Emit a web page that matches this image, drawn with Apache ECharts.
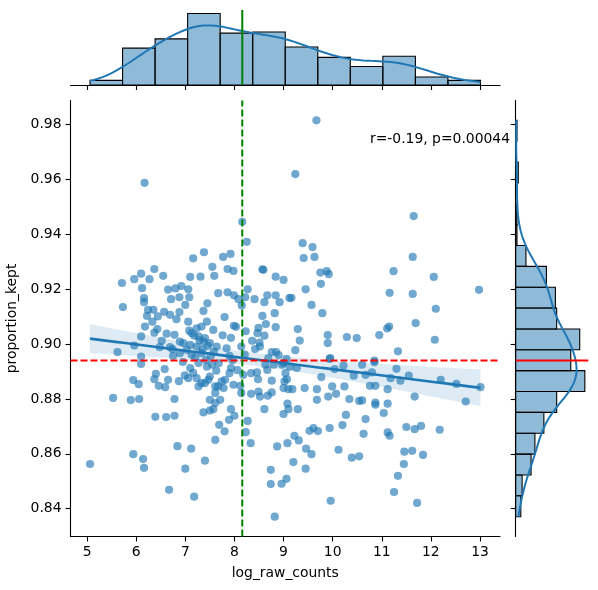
<!DOCTYPE html>
<html>
<head>
<meta charset="utf-8">
<script src="https://cdn.jsdelivr.net/npm/echarts@6/dist/echarts.min.js"></script>
<style>
  html, body { margin: 0; padding: 0; background: #fff; }
  #chart { width: 598px; height: 590px; }
</style>
</head>
<body>
<div id="chart"></div>
<script>
// scatter points (the last group sits hidden in the dense cluster)
const logRawCounts = [
  6.17,8.16,8.25,7.38,7.16,7.77,7.92,7.55,7.59,7.86,
  7.98,8.57,8.59,8.84,9.00,6.37,6.10,5.96,6.27,5.71,
  6.55,6.12,7.10,7.31,6.16,6.16,5.73,6.65,6.80,6.92,
  7.06,6.71,6.88,7.08,7.00,7.67,7.86,7.99,8.08,8.22,
  8.27,8.41,8.15,7.45,7.37,7.80,8.61,8.67,8.84,8.92,
  8.82,8.57,9.12,6.24,6.35,6.22,6.57,6.69,6.88,
  9.67,9.24,11.65,9.39,9.59,9.41,9.63,11.63,9.88,9.75,
  9.92,11.24,12.06,9.76,9.45,9.16,9.57,9.79,11.16,11.63,
  12.98,12.10,11.69,
  6.44,6.82,6.33,6.18,6.43,6.37,6.62,6.78,6.10,5.96,
  6.48,6.69,5.62,6.10,6.89,7.06,7.23,7.33,7.44,7.57,
  7.13,7.27,7.40,6.96,7.10,7.23,7.37,7.50,6.89,7.03,
  7.13,7.33,6.75,7.52,
  8.64,8.84,7.99,8.03,8.23,8.49,8.47,8.61,9.29,9.33,
  9.90,9.90,10.29,10.49,7.93,7.64,8.14,8.36,8.51,8.52,
  8.42,8.76,8.85,8.90,9.24,9.94,9.06,
  11.15,11.11,10.95,12.08,11.33,10.85,
  6.10,5.94,6.05,5.53,5.89,6.06,6.40,6.37,6.46,6.59,
  6.65,6.87,6.78,6.39,6.61,6.78,6.99,7.06,7.23,7.33,
  7.27,7.40,7.10,7.27,7.44,7.50,7.61,7.50,7.37,7.50,
  7.57,7.61,6.84,7.12,7.40,7.00,5.94,6.14,6.16,5.06,
  6.67,7.18,
  7.93,7.90,8.18,8.34,8.46,8.48,8.63,8.67,8.80,8.97,
  9.04,9.07,9.02,9.27,7.74,7.81,7.67,7.78,7.61,7.71,
  7.61,7.98,8.12,8.14,8.34,8.49,8.52,8.68,8.76,8.76,
  9.00,9.10,9.18,9.43,9.68,9.77,9.95,10.04,10.22,10.43,
  9.99,10.07,10.24,9.91,9.68,10.34,10.54,8.61,9.08,9.10,
  9.29,9.00,7.93,8.00,7.89,7.69,7.80,8.27,8.23,8.33,
  8.87,9.08,9.22,9.31,9.53,9.61,9.70,9.94,10.20,10.27,
  9.46,9.57,9.20,9.45,8.74,8.74,8.96,9.06,10.12,10.39,
  10.54,9.96,8.82,
  10.60,10.85,10.67,10.80,11.30,11.18,11.38,11.55,10.76,10.87,
  11.12,12.20,12.52,13.01,11.67,12.71,10.60,10.87,10.87,11.12,
  11.04,10.67,10.63,11.12,11.16,11.50,11.67,11.80,12.18,11.46,
  11.62,11.84,11.45,11.33,11.25,11.72,
  7.90,8.69,9.00,9.13,
  7.08,7.18,7.29,7.35,7.46,7.58,7.20,7.42,7.55,7.63,
  7.16,7.47,7.68,6.52,6.74,6.95,6.58,7.84,7.96,8.06,
  8.21,7.76
];
const proportionKept = [
  0.9588,0.9446,0.9373,0.9335,0.9313,0.9318,0.9329,0.9282,0.9249,0.9274,
  0.9267,0.9273,0.9271,0.9246,0.9234,0.9274,0.9257,0.9237,0.9237,0.9223,
  0.9249,0.9204,0.9245,0.9246,0.9168,0.9153,0.9135,0.9199,0.9203,0.9212,
  0.9200,0.9164,0.9171,0.9171,0.9143,0.9186,0.9189,0.9178,0.9164,0.9171,
  0.9200,0.9164,0.9141,0.9149,0.9121,0.9099,0.9153,0.9178,0.9178,0.9153,
  0.9113,0.9103,0.9168,0.9125,0.9125,0.9103,0.9118,0.9107,0.9117,
  0.9816,0.9620,0.9467,0.9368,0.9354,0.9314,0.9318,0.9318,0.9266,0.9261,
  0.9255,0.9266,0.9245,0.9220,0.9200,0.9169,0.9143,0.9113,0.9187,0.9183,
  0.9198,0.9129,0.9077,
  0.9101,0.9091,0.9082,0.9064,0.9055,0.9042,0.9038,0.9034,0.9028,0.8995,
  0.8989,0.8989,0.8971,0.8955,0.9009,0.9082,0.9058,0.9064,0.9082,0.9052,
  0.9040,0.9028,0.9022,0.9004,0.8997,0.8991,0.9009,0.9004,0.8967,0.8979,
  0.8961,0.8967,0.8957,0.8957,
  0.9073,0.9062,0.9067,0.9063,0.9047,0.9059,0.9040,0.9031,0.9055,0.9013,
  0.9033,0.9004,0.9026,0.9022,0.9023,0.8991,0.8991,0.9012,0.9006,0.8991,
  0.8982,0.8971,0.8971,0.8960,0.8978,0.8946,0.8946,
  0.9064,0.9057,0.9033,0.9016,0.8974,0.8940,
  0.8928,0.8869,0.8854,0.8804,0.8796,0.8800,0.8892,0.8872,0.8848,0.8843,
  0.8870,0.8865,0.8800,0.8735,0.8734,0.8739,0.8886,0.8876,0.8876,0.8858,
  0.8846,0.8858,0.8913,0.8931,0.8918,0.8882,0.8846,0.8797,0.8751,0.8758,
  0.8763,0.8651,0.8628,0.8619,0.8575,0.8546,0.8599,0.8581,0.8549,0.8563,
  0.8469,0.8444,
  0.8913,0.8894,0.8888,0.8894,0.8897,0.8872,0.8925,0.8906,0.8925,0.8925,
  0.8894,0.8872,0.8864,0.8913,0.8864,0.8870,0.8846,0.8840,0.8822,0.8797,
  0.8785,0.8852,0.8848,0.8822,0.8819,0.8827,0.8809,0.8812,0.8824,0.8867,
  0.8840,0.8836,0.8836,0.8840,0.8836,0.8880,0.8949,0.8909,0.8921,0.8885,
  0.8846,0.8819,0.8846,0.8809,0.8797,0.8800,0.8793,0.8763,0.8783,0.8763,
  0.8763,0.8745,0.8763,0.8739,0.8724,0.8706,0.8682,0.8720,0.8679,0.8639,
  0.8627,0.8639,0.8666,0.8649,0.8684,0.8694,0.8683,0.8694,0.8705,0.8742,
  0.8619,0.8599,0.8570,0.8546,0.8542,0.8490,0.8491,0.8509,0.8615,0.8586,
  0.8591,0.8429,0.8371,
  0.8925,0.8934,0.8888,0.8897,0.8910,0.8876,0.8867,0.8885,0.8848,0.8848,
  0.8836,0.8870,0.8855,0.8843,0.8809,0.8791,0.8795,0.8787,0.8779,0.8783,
  0.8749,0.8727,0.8673,0.8678,0.8666,0.8698,0.8690,0.8702,0.8688,0.8608,
  0.8611,0.8596,0.8563,0.8520,0.8461,0.8421,
  0.8957,0.8949,0.8931,0.8918,
  0.9049,0.9031,0.9014,0.8981,0.8994,0.8972,0.8952,0.8942,0.8925,0.8903,
  0.8895,0.8870,0.8930,0.9012,0.8982,0.8935,0.8909,0.8985,0.8941,0.8905,
  0.8962,0.9032
];

// marginal histogram counts (12 bins on x, 19 bins on y)
const xHistCounts = [4, 32, 40, 62, 45, 46, 33, 24, 16, 25, 7, 4];
const yHistCounts = [4, 5, 12, 15, 22, 32, 54, 43, 50, 32, 31, 24, 8, 1, 1, 0, 2, 0, 1];

const xTicks = [5, 6, 7, 8, 9, 10, 11, 12, 13];
const yTicks = [0.84, 0.86, 0.88, 0.90, 0.92, 0.94, 0.96, 0.98];

const xRefLine = 8.16;   // green
const yRefLine = 0.894;  // red
const statText = "r=-0.19, p=0.00044";

const FONT = "DejaVu Sans";
const BLUE = "#1f77b4";

// ---- derived ----
const n = logRawCounts.length;
const xMinD = Math.min(...logRawCounts), xMaxD = Math.max(...logRawCounts);
const yMinD = Math.min(...proportionKept), yMaxD = Math.max(...proportionKept);
const xMin = xMinD - (xMaxD - xMinD) * 0.05, xMax = xMaxD + (xMaxD - xMinD) * 0.05;
const yMin = yMinD - (yMaxD - yMinD) * 0.05, yMax = yMaxD + (yMaxD - yMinD) * 0.05;

// linear fit + 95% band
const mx = logRawCounts.reduce((a, b) => a + b, 0) / n;
const my = proportionKept.reduce((a, b) => a + b, 0) / n;
let sxx = 0, sxy = 0;
for (let i = 0; i < n; i++) {
  sxx += (logRawCounts[i] - mx) ** 2;
  sxy += (logRawCounts[i] - mx) * (proportionKept[i] - my);
}
const slope = sxy / sxx, icpt = my - slope * mx;
let sse = 0;
for (let i = 0; i < n; i++) sse += (proportionKept[i] - icpt - slope * logRawCounts[i]) ** 2;
const sRes = Math.sqrt(sse / (n - 2));
const fitX = [], fitY = [], bandLo = [], bandHi = [];
for (let k = 0; k <= 100; k++) {
  const x = xMinD + (xMaxD - xMinD) * k / 100;
  const yh = icpt + slope * x;
  const se = 1.968 * sRes * Math.sqrt(1 / n + (x - mx) ** 2 / sxx);
  fitX.push(x); fitY.push(yh); bandLo.push(yh - se); bandHi.push(yh + se);
}

function kde(values, lo, hi, steps) {
  const m = values.reduce((a, b) => a + b, 0) / values.length;
  const sd = Math.sqrt(values.reduce((a, b) => a + (b - m) ** 2, 0) / (values.length - 1));
  const bw = sd * Math.pow(values.length, -0.2);
  const out = [];
  for (let k = 0; k <= steps; k++) {
    const g = lo + (hi - lo) * k / steps;
    let s = 0;
    values.forEach(v => { s += Math.exp(-0.5 * ((g - v) / bw) ** 2); });
    out.push([g, s / (values.length * bw * Math.sqrt(2 * Math.PI))]);
  }
  return out;
}

const xBinW = (xMaxD - xMinD) / xHistCounts.length;
const yBinW = (yMaxD - yMinD) / yHistCounts.length;
const xHistData = xHistCounts.map((c, i) => [xMinD + i * xBinW, xMinD + (i + 1) * xBinW, c]);
const yHistData = yHistCounts.map((c, i) => [yMinD + i * yBinW, yMinD + (i + 1) * yBinW, c]);
const xTotal = xHistCounts.reduce((a, b) => a + b, 0);
const yTotal = yHistCounts.reduce((a, b) => a + b, 0);
const xKde = kde(logRawCounts, xMinD, xMaxD, 200).map(p => [p[0], p[1] * xTotal * xBinW]);
const yKde = kde(proportionKept, yMinD, yMaxD, 200).map(p => [p[1] * yTotal * yBinW, p[0]]);
const topMax = Math.max(...xHistCounts) * 1.05;
const rightMax = Math.max(...yHistCounts) * 1.05;

const chart = echarts.init(document.getElementById("chart"));

const axisBase = {
  type: "value",
  axisLine: { show: true, onZero: false, lineStyle: { color: "#000", width: 1.1 } },
  axisTick: { show: true, length: 5, lineStyle: { color: "#000", width: 1.1 } },
  splitLine: { show: false },
};

const option = {
  backgroundColor: "#fff",
  animation: false,
  textStyle: { fontFamily: FONT },
  grid: [
    { left: 70.5, top: 100.5, width: 429.5, height: 436, containLabel: false, outerBoundsMode: "none" },
    { left: 70.5, top: 10, width: 429.5, height: 75, containLabel: false, outerBoundsMode: "none" },
    { left: 515.7, top: 100.5, width: 72.6, height: 436, containLabel: false, outerBoundsMode: "none" },
  ],
  xAxis: [
    Object.assign({}, axisBase, {
      gridIndex: 0, min: xMin, max: xMax,
      axisTick: Object.assign({}, axisBase.axisTick, { customValues: xTicks }),
      axisLabel: { customValues: xTicks, color: "#000", fontSize: 13.9, fontFamily: FONT, margin: 9 },
      name: "log_raw_counts", nameLocation: "middle", nameGap: 30,
      nameTextStyle: { color: "#000", fontSize: 13.9, fontFamily: FONT },
    }),
    Object.assign({}, axisBase, {
      gridIndex: 1, min: xMin, max: xMax,
      axisTick: Object.assign({}, axisBase.axisTick, { customValues: xTicks }),
      axisLabel: { show: false },
    }),
    { type: "value", gridIndex: 2, min: 0, max: rightMax, show: false },
  ],
  yAxis: [
    Object.assign({}, axisBase, {
      gridIndex: 0, min: yMin, max: yMax,
      axisTick: Object.assign({}, axisBase.axisTick, { customValues: yTicks }),
      axisLabel: {
        customValues: yTicks, color: "#000", fontSize: 13.9, fontFamily: FONT, margin: 9,
        formatter: v => v.toFixed(2),
      },
      name: "proportion_kept", nameLocation: "middle", nameGap: 38.5, nameRotate: 90,
      nameTextStyle: { color: "#000", fontSize: 13.9, fontFamily: FONT },
    }),
    { type: "value", gridIndex: 1, min: 0, max: topMax, show: false },
    Object.assign({}, axisBase, {
      gridIndex: 2, min: yMin, max: yMax,
      axisTick: Object.assign({}, axisBase.axisTick, { customValues: yTicks }),
      axisLabel: { show: false },
    }),
  ],
  graphic: [{
    type: "text", x: 510, y: 139, z: 100,
    style: {
      text: statText, fill: "#000", font: "13.9px 'DejaVu Sans'",
      align: "right", verticalAlign: "middle", textAlign: "right", textVerticalAlign: "middle",
    },
  }],
  series: [
    {
      type: "scatter", xAxisIndex: 0, yAxisIndex: 0, z: 2,
      symbolSize: 8.2,
      itemStyle: { color: "rgba(31,119,180,0.8)" },
      data: logRawCounts.map((x, i) => [x, proportionKept[i]]),
    },
    {
      type: "custom", xAxisIndex: 0, yAxisIndex: 0, z: 3, silent: true,
      data: [[fitX[0], fitY[0]]],
      renderItem: (params, api) => {
        const pts = [];
        for (let k = 0; k < fitX.length; k++) pts.push(api.coord([fitX[k], bandHi[k]]));
        for (let k = fitX.length - 1; k >= 0; k--) pts.push(api.coord([fitX[k], bandLo[k]]));
        return { type: "polygon", shape: { points: pts }, style: { fill: "rgba(31,119,180,0.15)" } };
      },
    },
    {
      type: "line", xAxisIndex: 0, yAxisIndex: 0, z: 4, showSymbol: false, symbol: "none",
      lineStyle: { color: BLUE, width: 2.6 },
      data: fitX.map((x, k) => [x, fitY[k]]),
    },
    {
      type: "line", xAxisIndex: 0, yAxisIndex: 0, z: 5, symbol: "none",
      lineStyle: { color: "red", width: 2, type: [7, 3] },
      data: [[xMin, yRefLine], [xMax, yRefLine]],
    },
    {
      type: "line", xAxisIndex: 0, yAxisIndex: 0, z: 5, symbol: "none",
      lineStyle: { color: "green", width: 2, type: [7, 3] },
      data: [[xRefLine, yMin], [xRefLine, yMax]],
    },
    // top marginal
    {
      type: "custom", xAxisIndex: 1, yAxisIndex: 1, z: 2,
      encode: { x: [0, 1], y: 2 },
      data: xHistData,
      renderItem: (params, api) => {
        const p0 = api.coord([api.value(0), api.value(2)]);
        const p1 = api.coord([api.value(1), 0]);
        return {
          type: "rect",
          shape: { x: p0[0], y: p0[1], width: p1[0] - p0[0], height: p1[1] - p0[1] },
          style: { fill: "rgba(31,119,180,0.5)", stroke: "#000", lineWidth: 1.1 },
        };
      },
    },
    {
      type: "line", xAxisIndex: 1, yAxisIndex: 1, z: 3, symbol: "none",
      lineStyle: { color: BLUE, width: 2 }, data: xKde,
    },
    {
      type: "line", xAxisIndex: 1, yAxisIndex: 1, z: 4, symbol: "none",
      lineStyle: { color: "green", width: 2 },
      data: [[xRefLine, 0], [xRefLine, topMax]],
    },
    // right marginal
    {
      type: "custom", xAxisIndex: 2, yAxisIndex: 2, z: 2,
      encode: { x: 2, y: [0, 1] },
      data: yHistData,
      renderItem: (params, api) => {
        const p0 = api.coord([0, api.value(1)]);
        const p1 = api.coord([api.value(2), api.value(0)]);
        return {
          type: "rect",
          shape: { x: p0[0], y: p0[1], width: p1[0] - p0[0], height: p1[1] - p0[1] },
          style: { fill: "rgba(31,119,180,0.5)", stroke: "#000", lineWidth: 1.1 },
        };
      },
    },
    {
      type: "line", xAxisIndex: 2, yAxisIndex: 2, z: 3, symbol: "none",
      lineStyle: { color: BLUE, width: 2 }, data: yKde,
    },
    {
      type: "line", xAxisIndex: 2, yAxisIndex: 2, z: 4, symbol: "none",
      lineStyle: { color: "red", width: 2 },
      data: [[0, yRefLine], [rightMax, yRefLine]],
    },
  ],
};
chart.setOption(option);
</script>
</body>
</html>
